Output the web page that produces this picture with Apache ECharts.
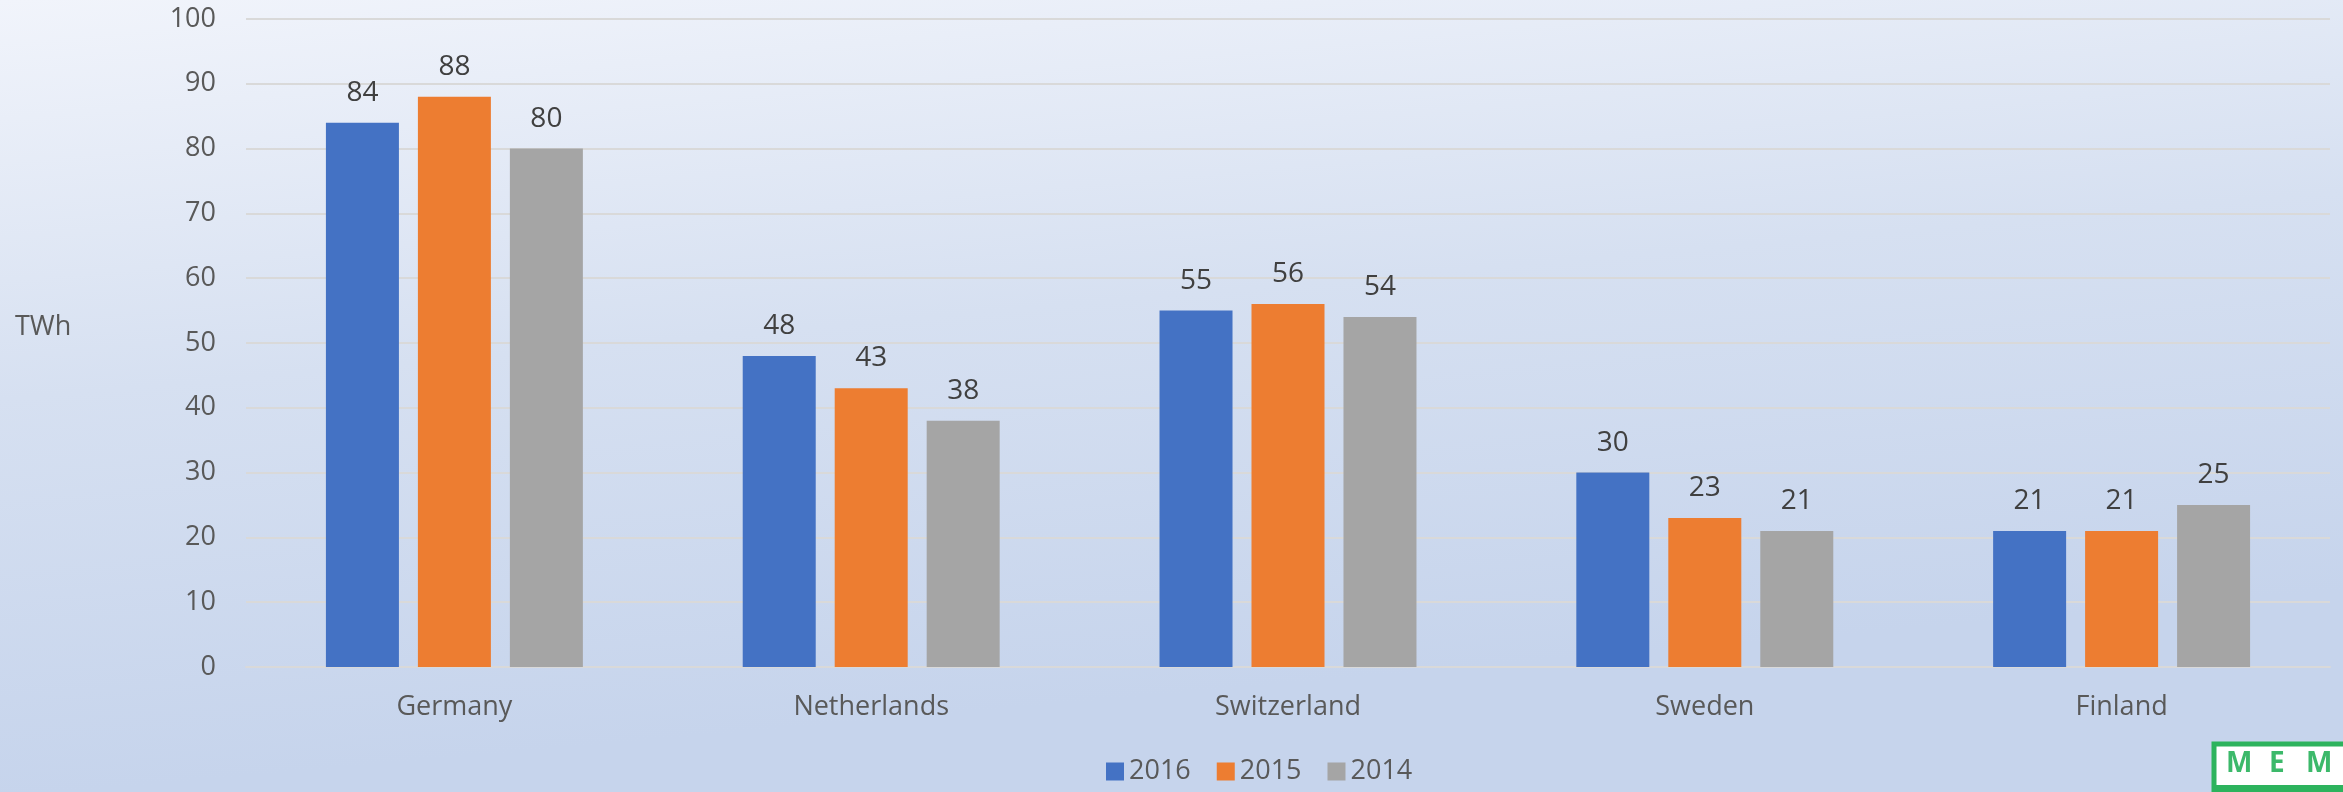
<!DOCTYPE html>
<html>
<head>
<meta charset="utf-8">
<script src="https://cdn.jsdelivr.net/npm/echarts@6/dist/echarts.min.js"></script>
<style>
html,body{margin:0;padding:0;}
#c{width:2343px;height:792px;}
</style>
</head>
<body>
<div id="c"></div>
<script>
const categories = ['Germany', 'Netherlands', 'Switzerland', 'Sweden', 'Finland'];
const seriesNames = ['2016', '2015', '2014'];
const values2016 = [84, 48, 55, 30, 21];
const values2015 = [88, 43, 56, 23, 21];
const values2014 = [80, 38, 54, 21, 25];
const yTicks = [0, 10, 20, 30, 40, 50, 60, 70, 80, 90, 100];
const unitLabel = 'TWh';

const FONT = '"Open Sans"';
const colors = ['#4472C4', '#ED7D31', '#A5A5A5'];
const allValues = [values2016, values2015, values2014];

const chart = echarts.init(document.getElementById('c'), null, {renderer: 'canvas'});

const series = seriesNames.map((n, i) => ({
  name: n,
  type: 'bar',
  data: allValues[i],
  barWidth: 73,
  barGap: '26%',
  itemStyle: {color: colors[i]},
  label: {
    show: true,
    position: 'top',
    distance: 16,
    color: '#404040',
    fontFamily: FONT,
    fontSize: 28
  }
}));

chart.setOption({
  animation: false,
  backgroundColor: {
    type: 'linear', x: 0, y: 0, x2: 0.03, y2: 1,
    colorStops: [
      {offset: 0, color: '#f1f4fb'},
      {offset: 0.5, color: '#d6e0f1'},
      {offset: 1, color: '#c6d4ec'}
    ]
  },
  textStyle: {fontFamily: FONT},
  grid: {left: 246, right: 13, top: 19, bottom: 125, containLabel: false},
  legend: {
    data: seriesNames,
    bottom: 2,
    left: 1101,
    itemWidth: 18,
    itemHeight: 18,
    itemGap: 26,
    icon: 'rect',
    textStyle: {color: '#595959', fontSize: 27, fontFamily: FONT, padding: [0, 0, 0, 0]}
  },
  xAxis: {
    type: 'category',
    data: categories,
    axisTick: {show: false},
    axisLine: {lineStyle: {color: '#d9d9d9', width: 2}},
    axisLabel: {color: '#595959', fontSize: 27, fontFamily: FONT, margin: 27}
  },
  yAxis: {
    type: 'value',
    min: yTicks[0],
    max: yTicks[yTicks.length - 1],
    interval: yTicks[1] - yTicks[0],
    axisLine: {show: false},
    axisTick: {show: false},
    splitLine: {lineStyle: {color: '#d9d9d9', width: 2}},
    axisLabel: {color: '#595959', fontSize: 27, fontFamily: FONT, margin: 30}
  },
  graphic: [
    {type: 'text', left: 15, top: 314, style: {text: unitLabel, fill: '#595959', font: '27px ' + FONT}},
    {type: 'rect', shape: {x: 2214, y: 744, width: 140, height: 60}, style: {fill: '#ffffff', stroke: '#2db35d', lineWidth: 5}},
    {type: 'rect', shape: {x: 2212, y: 785, width: 140, height: 10}, style: {fill: '#2db35d'}},
    {type: 'text', x: 2226, y: 750, style: {text: 'M', fill: '#3cb96a', font: 'bold 28px ' + FONT}},
    {type: 'text', x: 2269, y: 750, style: {text: 'E', fill: '#3cb96a', font: 'bold 28px ' + FONT}},
    {type: 'text', x: 2306, y: 750, style: {text: 'M', fill: '#3cb96a', font: 'bold 28px ' + FONT}}
  ],
  series: series
});
</script>
</body>
</html>
